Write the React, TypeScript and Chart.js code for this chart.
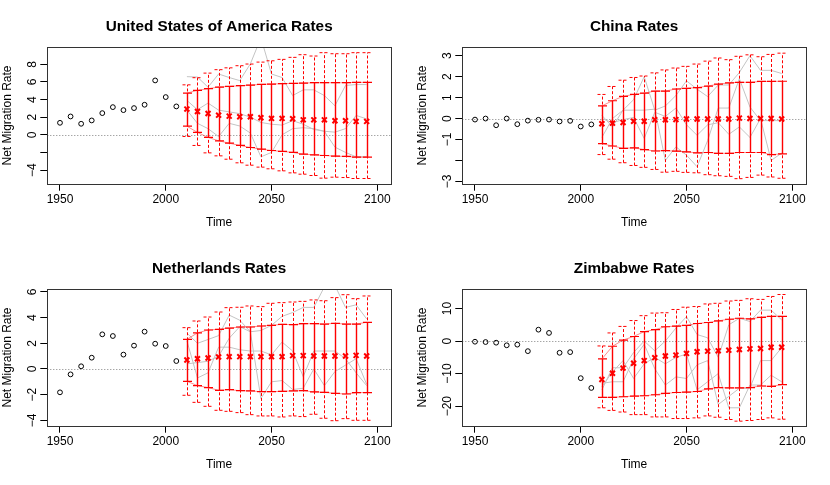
import React, { useEffect, useRef } from "react";
import { Chart, registerables } from "chart.js";

Chart.register(...registerables);

const FONT = "'Liberation Sans', Arial, Helvetica, sans-serif";

// ---- categories ----
const OBS_YEARS = [1950, 1955, 1960, 1965, 1970, 1975, 1980, 1985, 1990, 1995, 2000, 2005];
const PROJ_YEARS = [2010, 2015, 2020, 2025, 2030, 2035, 2040, 2045, 2050, 2055, 2060, 2065, 2070, 2075, 2080, 2085, 2090, 2095];
const X_TICKS = [1950, 2000, 2050, 2100];

// ---- United States of America ----
const USA_OBS = [1.36, 2.08, 1.25, 1.63, 2.46, 3.14, 2.8, 3.03, 3.41, 6.17, 4.28, 3.22];
const USA_MED = [2.92, 2.65, 2.42, 2.23, 2.12, 2.05, 2.05, 1.93, 1.86, 1.86, 1.82, 1.7, 1.7, 1.7, 1.59, 1.59, 1.52, 1.52];
const USA_HI80 = [4.73, 5.04, 5.23, 5.42, 5.49, 5.57, 5.64, 5.72, 5.76, 5.8, 5.83, 5.87, 5.91, 5.91, 5.91, 5.91, 5.95, 5.95];
const USA_LO80 = [0.98, 0.27, -0.3, -0.68, -0.95, -1.21, -1.44, -1.63, -1.78, -1.89, -2.0, -2.2, -2.27, -2.35, -2.42, -2.46, -2.54, -2.54];
const USA_HI95 = [5.67, 6.48, 7.0, 7.39, 7.6, 7.84, 8.03, 8.25, 8.4, 8.56, 8.79, 9.09, 8.94, 9.32, 9.2, 9.2, 9.32, 9.32];
const USA_LO95 = [-0.19, -1.21, -2.05, -2.39, -2.77, -3.18, -3.45, -3.67, -3.86, -4.09, -4.32, -4.47, -4.62, -4.92, -4.81, -4.85, -4.96, -4.96];
const USA_T1 = [6.6, 6.55, 5.4, 6.9, 6.5, 6.15, 8.05, 11.0, 6.9, 6.5, 4.45, 5.1, 5.1, 4.45, 3.3, 5.6, 5.7, 5.7];
const USA_T2 = [3.9, 2.85, 3.6, 2.8, 2.6, 2.4, 2.0, 1.4, 1.2, 1.1, 1.6, 1.2, 0.6, 0.4, 0.3, 0.7, 2.2, 1.8];
const USA_T3 = [2.8, 1.3, 0.7, -0.2, 1.3, 1.0, 0.2, -2.5, -2.0, 0.0, 0.7, 0.8, 0.7, 0.4, -1.4, -2.0, -2.5, -2.5];
const USA_Y_TICKS = [-4, -2, 0, 2, 4, 6, 8];
const USA_Y_LABELS = ["\u22124", "", "0", "2", "4", "6", "8"];

// ---- China ----
const CHN_OBS = [-0.05, 0.0, -0.32, 0.0, -0.27, -0.1, -0.06, -0.05, -0.14, -0.11, -0.38, -0.28];
const CHN_MED = [-0.25, -0.22, -0.19, -0.13, -0.13, -0.06, -0.06, -0.05, -0.02, -0.02, -0.02, -0.02, -0.02, 0.02, 0.0, 0.0, 0.0, -0.02];
const CHN_HI80 = [0.6, 0.85, 1.06, 1.15, 1.21, 1.31, 1.31, 1.41, 1.44, 1.48, 1.55, 1.64, 1.7, 1.73, 1.73, 1.77, 1.77, 1.78];
const CHN_LO80 = [-1.2, -1.31, -1.42, -1.4, -1.48, -1.55, -1.53, -1.56, -1.59, -1.64, -1.62, -1.66, -1.66, -1.62, -1.62, -1.62, -1.72, -1.69];
const CHN_HI95 = [1.15, 1.53, 1.83, 1.96, 2.03, 2.18, 2.32, 2.41, 2.49, 2.6, 2.74, 2.89, 2.81, 2.97, 3.04, 2.95, 3.06, 3.12];
const CHN_LO95 = [-1.72, -1.94, -2.11, -2.24, -2.33, -2.43, -2.56, -2.52, -2.57, -2.59, -2.68, -2.73, -2.76, -2.87, -2.81, -2.7, -2.79, -2.85];
const CHN_T1 = [-0.9, 0.0, 0.4, 0.9, 2.0, 0.4, 0.6, 1.1, 1.8, 1.4, 1.05, 1.6, 1.6, 2.2, 3.0, 2.3, 2.3, 2.15];
const CHN_T2 = [0.15, -0.4, 0.4, 0.4, 0.4, 0.45, -2.0, -1.35, -1.75, -2.3, -1.05, 0.5, 0.5, 1.9, 0.55, -0.1, -0.1, -0.1];
const CHN_T3 = [0.0, -0.2, -0.05, 0.05, -0.95, 0.3, 0.1, 0.5, -0.3, -0.8, -0.3, -0.2, -0.75, -0.4, -0.9, 0.0, -2.0, -1.65];
const CHN_Y_TICKS = [-3, -2, -1, 0, 1, 2, 3];
const CHN_Y_LABELS = ["\u22123", "", "\u22121", "0", "1", "2", "3"];

// ---- Netherlands ----
const NLD_OBS = [-1.82, -0.42, 0.21, 0.88, 2.7, 2.57, 1.12, 1.82, 2.91, 1.97, 1.79, 0.62];
const NLD_MED = [0.7, 0.8, 0.86, 0.94, 0.96, 0.96, 0.96, 0.96, 0.96, 0.96, 1.04, 1.04, 1.01, 1.01, 1.01, 1.01, 1.06, 1.01];
const NLD_HI80 = [2.31, 2.81, 3.04, 3.09, 3.19, 3.27, 3.27, 3.35, 3.4, 3.48, 3.45, 3.53, 3.53, 3.5, 3.56, 3.5, 3.5, 3.64];
const NLD_LO80 = [-0.96, -1.3, -1.45, -1.66, -1.61, -1.69, -1.71, -1.77, -1.77, -1.74, -1.71, -1.69, -1.79, -1.82, -1.9, -1.95, -1.84, -1.84];
const NLD_HI95 = [3.22, 3.74, 4.05, 4.44, 4.78, 4.81, 4.91, 4.86, 5.12, 5.17, 5.22, 5.27, 5.38, 5.32, 5.56, 5.79, 5.48, 5.69];
const NLD_LO95 = [-2.05, -2.6, -2.91, -3.22, -3.3, -3.4, -3.56, -3.66, -3.66, -3.74, -3.66, -3.71, -3.53, -3.84, -4.03, -3.87, -4.0, -4.0];
const NLD_T1 = [2.8, 2.0, 2.3, 2.6, 4.2, 3.8, 2.9, 3.0, 3.4, 4.1, 4.4, 4.8, 4.8, 6.4, 6.5, 4.8, 5.0, 3.9];
const NLD_T2 = [2.2, -0.7, -0.3, 1.7, 1.7, 1.5, 1.4, 1.4, 1.1, 2.1, 1.4, -0.6, 1.4, 1.4, 1.4, 0.8, -0.3, -1.3];
const NLD_T3 = [0.4, 0.5, 0.6, 1.0, 2.4, 3.3, 2.9, -2.3, -1.0, -0.9, -1.6, -1.5, 0.0, -1.3, -0.2, 0.3, 0.8, -1.2];
const NLD_Y_TICKS = [-4, -2, 0, 2, 4, 6];
const NLD_Y_LABELS = ["\u22124", "\u22122", "0", "2", "4", "6"];

// ---- Zimbabwe ----
const ZWE_OBS = [-0.2, -0.3, -0.5, -1.3, -1.1, -3.1, 3.5, 2.5, -3.6, -3.4, -11.4, -14.4];
const ZWE_MED = [-11.8, -9.9, -8.3, -6.8, -6.0, -5.1, -4.6, -4.3, -3.8, -3.3, -3.1, -3.0, -2.8, -2.6, -2.4, -2.3, -1.9, -1.9];
const ZWE_HI80 = [-5.5, -1.6, 0.3, 1.4, 2.9, 3.5, 4.4, 4.6, 4.8, 5.4, 5.7, 6.2, 6.7, 7.0, 6.8, 7.3, 7.6, 7.6];
const ZWE_LO80 = [-17.3, -17.3, -17.1, -16.9, -16.8, -16.5, -16.1, -15.8, -15.7, -15.5, -14.7, -14.3, -14.4, -14.4, -14.3, -13.8, -13.9, -13.4];
const ZWE_HI95 = [-1.5, 2.5, 4.5, 6.3, 7.8, 8.6, 8.7, 9.7, 10.4, 10.6, 11.4, 11.6, 12.3, 12.5, 13.0, 12.8, 13.7, 14.3];
const ZWE_LO95 = [-20.5, -21.3, -21.8, -22.6, -22.6, -23.3, -23.3, -23.8, -23.8, -23.6, -23.0, -23.4, -24.1, -24.6, -24.4, -24.1, -23.6, -24.0];
const ZWE_T1 = [-15, -8.2, -8.2, -3.5, 0.0, -3.0, 0.0, 4.0, 7.5, 2.0, 1.0, -5.0, 5.0, 7.0, 6.0, 9.5, 9.5, 6.5];
const ZWE_T2 = [-13, -12.5, -12.5, -5.5, -1.0, -8.5, -13.5, -11.0, -11.5, -7.3, -6.0, -19.5, -17.0, -14.5, -14.5, -6.0, -6.0, -2.0];
const ZWE_T3 = [-14, -9.5, -6.0, -11.5, -7.0, -5.0, -7.0, -5.0, -4.0, -15.0, -12.5, -10.0, -20.5, -20.5, -13.5, -13.5, -10.5, -12.5];
const ZWE_Y_TICKS = [-20, -10, 0, 10];
const ZWE_Y_LABELS = ["\u221220", "\u221210", "0", "10"];

type Panel = {
  title: string;
  obs: number[];
  med: number[];
  hi80: number[];
  lo80: number[];
  hi95: number[];
  lo95: number[];
  traj: number[][];
  yMin: number;
  yMax: number;
  yTicks: number[];
  yLabels: string[];
};

const PANELS: Panel[] = [
  { title: "United States of America Rates", obs: USA_OBS, med: USA_MED, hi80: USA_HI80, lo80: USA_LO80, hi95: USA_HI95, lo95: USA_LO95, traj: [USA_T1, USA_T2, USA_T3], yMin: -5.55, yMax: 9.93, yTicks: USA_Y_TICKS, yLabels: USA_Y_LABELS },
  { title: "China Rates", obs: CHN_OBS, med: CHN_MED, hi80: CHN_HI80, lo80: CHN_LO80, hi95: CHN_HI95, lo95: CHN_LO95, traj: [CHN_T1, CHN_T2, CHN_T3], yMin: -3.11, yMax: 3.4, yTicks: CHN_Y_TICKS, yLabels: CHN_Y_LABELS },
  { title: "Netherlands Rates", obs: NLD_OBS, med: NLD_MED, hi80: NLD_HI80, lo80: NLD_LO80, hi95: NLD_HI95, lo95: NLD_LO95, traj: [NLD_T1, NLD_T2, NLD_T3], yMin: -4.42, yMax: 6.21, yTicks: NLD_Y_TICKS, yLabels: NLD_Y_LABELS },
  { title: "Zimbabwe Rates", obs: ZWE_OBS, med: ZWE_MED, hi80: ZWE_HI80, lo80: ZWE_LO80, hi95: ZWE_HI95, lo95: ZWE_LO95, traj: [ZWE_T1, ZWE_T2, ZWE_T3], yMin: -26.0, yMax: 15.9, yTicks: ZWE_Y_TICKS, yLabels: ZWE_Y_LABELS },
];

const W = 415;
const H = 242;

function pts(xs: number[], ys: number[]) {
  return xs.map((x, i) => ({ x, y: ys[i] }));
}

function PanelChart({ p }: { p: Panel }) {
  const ref = useRef<HTMLCanvasElement | null>(null);

  useEffect(() => {
    if (!ref.current) return;

    const panelPlugin = {
      id: "panelPlugin",
      beforeDatasetsDraw(chart: any) {
        const { ctx, chartArea, scales } = chart;
        const y0 = Math.round(scales.y.getPixelForValue(0)) + 0.5;
        ctx.save();
        ctx.strokeStyle = "#808080";
        ctx.lineWidth = 1;
        ctx.setLineDash([1, 2]);
        ctx.beginPath();
        ctx.moveTo(chartArea.left, y0);
        ctx.lineTo(chartArea.right, y0);
        ctx.stroke();
        ctx.restore();
      },
      afterDatasetDraw(chart: any, args: any) {
        const ds = chart.data.datasets[args.index];
        if (ds.label !== "hi80") return;
        const { ctx, chartArea, scales } = chart;
        const xs = scales.x;
        const ys = scales.y;
        ctx.save();
        ctx.beginPath();
        ctx.rect(chartArea.left, chartArea.top, chartArea.right - chartArea.left, chartArea.bottom - chartArea.top);
        ctx.clip();
        ctx.strokeStyle = "#ff0000";
        PROJ_YEARS.forEach((yr, i) => {
          const px = Math.round(xs.getPixelForValue(yr)) + 0.5;
          // 95% dashed bar
          const a = ys.getPixelForValue(p.lo95[i]);
          const b = ys.getPixelForValue(p.hi95[i]);
          ctx.lineWidth = 1;
          ctx.setLineDash([3, 2]);
          ctx.beginPath();
          ctx.moveTo(px, a);
          ctx.lineTo(px, b);
          ctx.moveTo(px - 5, a);
          ctx.lineTo(px + 5, a);
          ctx.moveTo(px - 5, b);
          ctx.lineTo(px + 5, b);
          ctx.stroke();
          // 80% solid bar
          const c = ys.getPixelForValue(p.lo80[i]);
          const d = ys.getPixelForValue(p.hi80[i]);
          ctx.setLineDash([]);
          ctx.lineWidth = 1.4;
          ctx.beginPath();
          ctx.moveTo(px, c);
          ctx.lineTo(px, d);
          ctx.stroke();
          ctx.lineWidth = 1.2;
          ctx.beginPath();
          ctx.moveTo(px - 4.5, c);
          ctx.lineTo(px + 4.5, c);
          ctx.moveTo(px - 4.5, d);
          ctx.lineTo(px + 4.5, d);
          ctx.stroke();
        });
        ctx.restore();
      },
      afterDraw(chart: any) {
        const { ctx, chartArea, scales } = chart;
        ctx.save();
        // plot box
        ctx.strokeStyle = "#333333";
        ctx.lineWidth = 1;
        ctx.setLineDash([]);
        const l = Math.round(chartArea.left) + 0.5;
        const t = Math.round(chartArea.top) + 0.5;
        const r = Math.round(chartArea.right) + 0.5;
        const b = Math.round(chartArea.bottom) + 0.5;
        ctx.strokeRect(l, t, r - l, b - t);
        // y tick labels, rotated like R's las=0
        ctx.fillStyle = "#000";
        ctx.font = `12px ${FONT}`;
        ctx.textAlign = "center";
        ctx.textBaseline = "alphabetic";
        p.yTicks.forEach((v, i) => {
          const lab = p.yLabels[i];
          if (!lab) return;
          const py = scales.y.getPixelForValue(v);
          ctx.save();
          ctx.translate(chartArea.left - 11.3, py);
          ctx.rotate(-Math.PI / 2);
          ctx.fillText(lab, 0, 0);
          ctx.restore();
        });
        // main title
        ctx.font = `bold 15.3px ${FONT}`;
        ctx.textAlign = "center";
        ctx.textBaseline = "alphabetic";
        ctx.fillText(p.title, (chartArea.left + chartArea.right) / 2, 30.5);
        ctx.restore();
      },
    };

    const datasets: any[] = [
      {
        label: "median",
        data: pts(PROJ_YEARS, p.med),
        showLine: false,
        pointStyle: "crossRot",
        pointRadius: 3.5,
        pointBorderColor: "#ff0000",
        pointBorderWidth: 2,
        borderColor: "#ff0000",
        order: 1,
      },
      {
        label: "observed",
        data: pts(OBS_YEARS, p.obs),
        showLine: false,
        pointStyle: "circle",
        pointRadius: 2.4,
        pointBorderColor: "#000000",
        pointBackgroundColor: "rgba(0,0,0,0)",
        pointBorderWidth: 1,
        borderColor: "#000000",
        order: 2,
      },
      {
        label: "hi80",
        data: pts(PROJ_YEARS, p.hi80),
        borderColor: "rgba(255,0,0,0.45)",
        borderWidth: 1,
        pointRadius: 0,
        tension: 0,
        order: 3,
      },
      {
        label: "lo80",
        data: pts(PROJ_YEARS, p.lo80),
        borderColor: "rgba(255,0,0,0.45)",
        borderWidth: 1,
        pointRadius: 0,
        tension: 0,
        order: 4,
      },
      ...p.traj.map((tr, k) => ({
        label: "traj" + k,
        data: pts(PROJ_YEARS, tr),
        borderColor: "#c4c4c4",
        borderWidth: 1,
        pointRadius: 0,
        tension: 0,
        order: 5,
      })),
    ];

    const chart = new Chart(ref.current, {
      type: "line",
      data: { datasets },
      options: {
        animation: false,
        responsive: false,
        maintainAspectRatio: false,
        devicePixelRatio: 1,
        events: [],
        layout: { padding: { top: 47.3, right: 24, left: 0, bottom: 0 } },
        plugins: {
          legend: { display: false },
          tooltip: { enabled: false },
          title: { display: false },
        },
        scales: {
          x: {
            type: "linear",
            min: 1944,
            max: 2106.5,
            afterBuildTicks: (s: any) => {
              s.ticks = X_TICKS.map((v) => ({ value: v }));
            },
            afterFit: (s: any) => {
              s.height = H - 183.7;
            },
            ticks: {
              color: "#000",
              font: { family: FONT, size: 12 },
              padding: 2,
              maxRotation: 0,
              minRotation: 0,
              autoSkip: false,
              callback: (v: any) => String(v),
            },
            grid: { drawOnChartArea: false, drawTicks: true, tickLength: 7, color: "#000", tickColor: "#000" },
            border: { display: false },
            title: { display: true, text: "Time", color: "#000", font: { family: FONT, size: 12 }, padding: { top: 0, bottom: 12.1 } },
          },
          y: {
            type: "linear",
            min: p.yMin,
            max: p.yMax,
            afterBuildTicks: (s: any) => {
              s.ticks = p.yTicks.map((v) => ({ value: v }));
            },
            afterFit: (s: any) => {
              s.width = 47.3;
            },
            ticks: { display: false },
            grid: { drawOnChartArea: false, drawTicks: true, tickLength: 7, color: "#000", tickColor: "#000" },
            border: { display: false },
            title: { display: true, text: "Net Migration Rate", color: "#000", font: { family: FONT, size: 12 }, padding: { top: 0, bottom: 0 } },
          },
        },
      },
      plugins: [panelPlugin],
    } as any);

    return () => chart.destroy();
  }, [p]);

  return <canvas ref={ref} width={W} height={H} style={{ display: "block", width: W, height: H }} />;
}

export default function App() {
  return (
    <div style={{ position: "fixed", left: 0, top: 0, width: 830, height: 485, background: "#ffffff" }}>
      {PANELS.map((p, i) => (
        <div
          key={p.title}
          style={{ position: "absolute", left: (i % 2) * W, top: Math.floor(i / 2) * H, width: W, height: H }}
        >
          <PanelChart p={p} />
        </div>
      ))}
    </div>
  );
}
